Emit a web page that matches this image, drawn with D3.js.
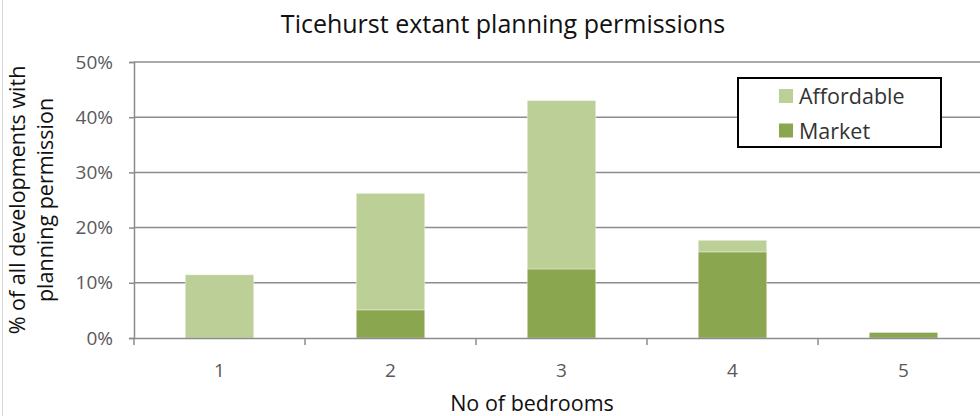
<!DOCTYPE html>
<html>
<head>
<meta charset="utf-8">
<script src="https://cdn.jsdelivr.net/npm/d3@7"></script>
<style>
  body { margin: 0; background: #fff; }
  svg { display: block; font-family: "Open Sans", sans-serif; }
</style>
</head>
<body>
<svg id="chart" width="980" height="416"></svg>
<script>
// data (percent of all developments)
var bedrooms = ["1", "2", "3", "4", "5"];
var market = [0, 5.1, 12.5, 15.6, 1.0];
var affordable = [11.45, 21.1, 30.5, 2.1, 0];
var yTicks = [0, 10, 20, 30, 40, 50];
var seriesNames = ["Affordable", "Market"];
var seriesColors = { Affordable: "#bbcf97", Market: "#8aa64e" };

var svg = d3.select("#chart");
// plot area (right edge runs past the window, like the reference)
var plotLeft = 134, plotRight = 989, plotTop = 62, plotBottom = 338;

var x = d3.scaleBand().domain(bedrooms).range([plotLeft, plotRight]).paddingInner(0.6).paddingOuter(0.3);
var y = d3.scaleLinear().domain([0, 50]).range([plotBottom, plotTop]);

// chart frame edge at left
svg.append("line").attr("x1", 2.5).attr("x2", 2.5).attr("y1", 0).attr("y2", 416)
    .attr("stroke", "#d9d9d9").attr("stroke-width", 1);

// title
svg.append("text").attr("x", 503).attr("y", 33).attr("text-anchor", "middle")
    .style("font-size", "25px").style("fill", "#111")
    .text("Ticehurst extant planning permissions");

// gridlines
svg.append("g").selectAll("line").data(yTicks.slice(1)).join("line")
    .attr("x1", plotLeft).attr("x2", plotRight)
    .attr("y1", function(d){ return y(d); }).attr("y2", function(d){ return y(d); })
    .attr("stroke", "#8c8c8c").attr("stroke-width", 1.5);

// stacked bars
var rows = bedrooms.map(function(b, i){ return { bed: b, Market: market[i], Affordable: affordable[i] }; });
var stack = d3.stack().keys(["Market", "Affordable"])(rows);

svg.append("g").selectAll("g").data(stack).join("g")
    .attr("fill", function(d){ return seriesColors[d.key]; })
    .selectAll("rect").data(function(d){ return d; }).join("rect")
    .attr("x", function(d){ return x(d.data.bed); })
    .attr("width", x.bandwidth())
    .attr("y", function(d){ return y(d[1]); })
    .attr("height", function(d){ return y(d[0]) - y(d[1]); })
    .attr("stroke", "rgba(255,255,255,0.35)").attr("stroke-width", 1);

// y axis
var yAxis = svg.append("g").attr("transform", "translate(" + plotLeft + ",0)")
    .call(d3.axisLeft(y).tickValues(yTicks).tickSize(5).tickPadding(16)
        .tickFormat(function(d){ return d + "%"; }));
yAxis.select(".domain").attr("stroke", "#8c8c8c").attr("stroke-width", 1.5);
yAxis.selectAll(".tick line").attr("stroke", "#8c8c8c").attr("stroke-width", 1.5);
yAxis.selectAll(".tick text").style("font-size", "19px").style("fill", "#595959")
    .style("font-family", "'Open Sans', sans-serif");

// x axis
var xAxis = svg.append("g").attr("transform", "translate(0," + plotBottom + ")")
    .call(d3.axisBottom(x).tickSize(0).tickPadding(26));
xAxis.select(".domain").attr("stroke", "#8c8c8c").attr("stroke-width", 1.5);
xAxis.selectAll(".tick text").style("font-size", "19px").style("fill", "#595959")
    .style("font-family", "'Open Sans', sans-serif");
// category boundary ticks
svg.append("g").selectAll("line").data(d3.range(bedrooms.length + 1)).join("line")
    .attr("x1", function(i){ return plotLeft + i * (plotRight - plotLeft) / bedrooms.length; })
    .attr("x2", function(i){ return plotLeft + i * (plotRight - plotLeft) / bedrooms.length; })
    .attr("y1", plotBottom).attr("y2", plotBottom + 7)
    .attr("stroke", "#8c8c8c").attr("stroke-width", 1.5);

// axis titles
svg.append("text").attr("x", 532).attr("y", 411).attr("text-anchor", "middle")
    .style("font-size", "21.5px").style("fill", "#111").text("No of bedrooms");
var yt = svg.append("text").attr("transform", "translate(0,200) rotate(-90)")
    .attr("text-anchor", "middle").style("font-size", "21.5px").style("fill", "#111");
yt.append("tspan").attr("x", 0).attr("y", 25).text("% of all developments with");
yt.append("tspan").attr("x", 0).attr("y", 53).text("planning permission");

// legend
var lg = svg.append("g").attr("transform", "translate(738,78)");
lg.append("rect").attr("width", 203).attr("height", 69).attr("fill", "#fff")
    .attr("stroke", "#000").attr("stroke-width", 2);
var items = lg.selectAll("g").data(seriesNames).join("g")
    .attr("transform", function(d, i){ return "translate(41," + (11 + i * 34.5) + ")"; });
items.append("rect").attr("width", 14).attr("height", 14)
    .attr("fill", function(d){ return seriesColors[d]; });
items.append("text").attr("x", 20).attr("y", 15).style("font-size", "21.5px")
    .style("fill", "#333").text(function(d){ return d; });
</script>
</body>
</html>
